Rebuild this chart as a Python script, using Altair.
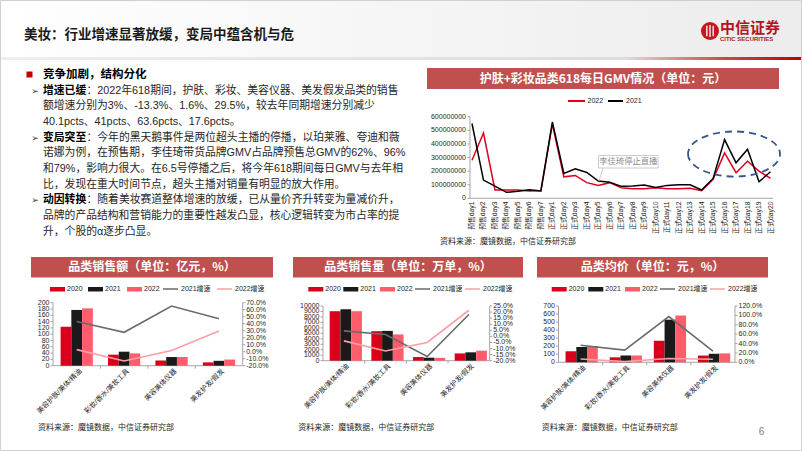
import altair as alt
import pandas as pd

FONT = "Liberation Sans, Noto Sans CJK SC"
CJK = "Noto Sans CJK SC"
HEAD = "#C0504D"
TXT = "#262626"
AXC = "#A6A6A6"
C2020 = "#D9001B"
C2021 = "#1A1A1A"
C2022 = "#FF5C6C"
G21 = "#6B6B6B"
G22 = "#F7A1A5"
LINE22 = "#E0001E"
LINE21 = "#000000"

# ---------------- data: daily GMV (unit: million yuan) ----------------
days = ["预售day1", "预售day2", "预售day3", "预售day4", "预售day5", "预售day6", "预售day7",
        "正式day1", "正式day2", "正式day3", "正式day4", "正式day5", "正式day6", "正式day7",
        "正式day8", "正式day9", "正式day10", "正式day11", "正式day12", "正式day13", "正式day14",
        "正式day15", "正式day16", "正式day17", "正式day18", "正式day19", "正式day20"]
gmv_2022_mn = [280, 480, 61, 61, 61, 54, 55, 545, 158, 168, 115, 95, 115, 78, 71, 71, 78,
               71, 71, 73, 56, 139, 334, 188, 273, 200, 146]
gmv_2021_mn = [550, 134, 90, 44, 52, 62, 54, 561, 183, 217, 190, 127, 118, 88, 90, 98, 80,
               95, 100, 100, 61, 146, 432, 261, 361, 122, 195]
gmv_ticks = [0, 100000000, 200000000, 300000000, 400000000, 500000000, 600000000]

# ---------------- data: category charts ----------------
CATS = ["美容护肤/美体/精油", "彩妆/香水/美妆工具", "美容美体仪器", "美发护发/假发"]
YEARS = ["2020", "2021", "2022"]

sales_2020 = [124, 35, 16.5, 10.5]
sales_2021 = [177, 44.5, 27.5, 15.5]
sales_2022 = [182, 39, 27.5, 19.5]
sales_g2021 = [43.1, 27.7, 65.2, 47.1]
sales_g2022 = [3.0, -13.3, 1.6, 29.5]
sales_left_ticks = [0, 20, 40, 60, 80, 100, 120, 140, 160, 180, 200]
sales_right_ticks = [-20, -10, 0, 10, 20, 30, 40, 50, 60, 70]

vol_2020 = [9050, 5400, 670, 1330]
vol_2021 = [9400, 5450, 550, 1530]
vol_2022 = [9050, 4800, 530, 1830]
vol_g2021 = [4.5, 1.5, -16.5, 18.0]
vol_g2022 = [-3.7, -12.0, -5.0, 21.5]
vol_left_ticks = [0, 1000, 2000, 3000, 4000, 5000, 6000, 7000, 8000, 9000, 10000]
vol_right_ticks = [-20, -15, -10, -5, 0, 5, 10, 15, 20, 25]

price_2020 = [138, 62, 268, 84]
price_2021 = [191, 85, 530, 106]
price_2022 = [202, 85, 582, 111]
price_g2021 = [36.5, 26.0, 97.5, 23.8]
price_g2022 = [7.0, 1.5, 8.0, 6.5]
price_left_ticks = [0, 100, 200, 300, 400, 500, 600, 700]
price_right_ticks = [0, 20, 40, 60, 80, 100, 120]

heading = "竞争加剧，结构分化"
bullets = [
    ("增速已缓", ["：2022年618期间，护肤、彩妆、美容仪器、美发假发品类的销售",
                 "额增速分别为3%、-13.3%、1.6%、29.5%，较去年同期增速分别减少",
                 "40.1pcts、41pcts、63.6pcts、17.6pcts。"]),
    ("变局突至", ["：今年的黑天鹅事件是两位超头主播的停播，以珀莱雅、夸迪和薇",
                 "诺娜为例，在预售期，李佳琦带货品牌GMV占品牌预售总GMV的62%、96%",
                 "和79%，影响力很大。在6.5号停播之后，将今年618期间每日GMV与去年相",
                 "比，发现在重大时间节点，超头主播对销量有明显的放大作用。"]),
    ("动因转换", ["：随着美妆赛道整体增速的放缓，已从量价齐升转变为量减价升，",
                 "品牌的产品结构和营销能力的重要性越发凸显，核心逻辑转变为市占率的提",
                 "升，个股的α逐步凸显。"]),
]
SOURCE = "资料来源：魔镜数据，中信证券研究部"

ONE = pd.DataFrame({"k": [0]})


def txt(s, x, y, size=8, color=TXT, bold=False, align="left", angle=0, font=FONT, baseline="middle"):
    return alt.Chart(ONE).mark_text(
        text=s, fontSize=size, color=color, fontWeight=("bold" if bold else "normal"),
        align=align, baseline=baseline, angle=angle, font=font
    ).encode(x=alt.value(x), y=alt.value(y))


def rect(x, y, x2, y2, fill, stroke=None, sw=1.0, fill_opacity=1.0):
    kw = {"fill": fill, "fillOpacity": fill_opacity}
    if stroke is not None:
        kw["stroke"] = stroke
        kw["strokeWidth"] = sw
    return alt.Chart(ONE).mark_rect(**kw).encode(
        x=alt.value(x), x2=alt.value(x2), y=alt.value(y), y2=alt.value(y2))


def seg(x, y, x2, y2, color, w=1.0, dash=None):
    kw = {"color": color, "strokeWidth": w}
    if dash:
        kw["strokeDash"] = dash
    return alt.Chart(ONE).mark_rule(**kw).encode(
        x=alt.value(x), y=alt.value(y), x2=alt.value(x2), y2=alt.value(y2))


def grad(stops):
    return alt.Gradient(gradient="linear", x1=0, x2=1, y1=0, y2=0,
                        stops=[alt.GradientStop(offset=o, color=c) for o, c in stops])


# ================= ROW 1 (title, text, line chart) =================
r1 = []
r1.append(rect(0, 0, 802, 57, grad([(0, "#ffffff"), (1, "#ececec")])))
r1.append(rect(0, 57, 802, 60, grad([(0, "#eeeeee"), (0.78, "#dddddd"), (0.9, "#c0504d"), (1, "#c00000")])))
r1.append(txt("美妆：行业增速显著放缓，变局中蕴含机与危", 24, 35, 13.5, "#1a1a1a", True, font=CJK))

# logo
r1.append(alt.Chart(ONE).mark_point(shape="circle", filled=True, size=324, color="#C8161D", opacity=1)
          .encode(x=alt.value(710), y=alt.value(31)))
r1.append(alt.Chart(ONE).mark_point(shape="M-0.45,-0.75L-0.45,0.75M0,-0.85L0,0.85M0.45,-0.75L0.45,0.75",
                                    filled=False, size=196, color="white", strokeWidth=1.3, opacity=1)
          .encode(x=alt.value(710), y=alt.value(31)))
r1.append(txt("中信证券", 720, 28, 15, "#B5121B", True, font=CJK))
r1.append(txt("CITIC SECURITIES", 720, 38.5, 6, "#B5121B", True, font="Liberation Sans"))

# text block
r1.append(rect(26.5, 71.5, 32.5, 77.5, "#C00000"))
r1.append(txt(heading, 43, 75, 11.5, "#000000", True, font=CJK))
yy = 75.0
for head, lines in bullets:
    for j, line in enumerate(lines):
        yy += 15.65
        if j == 0:
            r1.append(txt("➢", 35, yy, 9, "#404040", font="DejaVu Sans", align="center"))
            r1.append(txt(head, 43, yy, 10.8, "#000000", True, font=CJK))
            r1.append(txt(line, 86.5, yy, 10.8, TXT))
        else:
            r1.append(txt(line, 43, yy, 10.8, TXT))

# line chart
r1.append(rect(427, 68, 779, 89, HEAD))
r1.append(txt("护肤+彩妆品类618每日GMV情况（单位：元）", 603, 78.5, 12, "white", True, "center", font=CJK))
r1.append(seg(568, 101, 585, 101, LINE22, 2))
r1.append(txt("2022", 587.5, 101, 7))
r1.append(seg(608, 101, 623, 101, LINE21, 2))
r1.append(txt("2021", 626, 101, 7))

xs_d = alt.Scale(type="point", domain=days, range=[472, 770.5], padding=0)
ys_d = alt.Scale(domain=[0, 600000000], range=[198.3, 116.7], nice=False, zero=False)
r1.append(seg(470, 116.7, 470, 198.3, AXC))
r1.append(seg(470, 198.3, 773, 198.3, AXC))
tick_df = pd.DataFrame({"v": gmv_ticks, "lab": [str(t) for t in gmv_ticks]})
r1.append(alt.Chart(tick_df).mark_rule(color=AXC).encode(
    x=alt.value(467.5), x2=alt.value(470), y=alt.Y("v:Q", scale=ys_d, axis=None)))
r1.append(alt.Chart(tick_df).mark_text(align="right", baseline="middle", fontSize=7, font=FONT, color=TXT).encode(
    x=alt.value(466), y=alt.Y("v:Q", scale=ys_d, axis=None), text="lab:N"))
day_df = pd.DataFrame({"day": days})
r1.append(alt.Chart(day_df).mark_text(angle=270, align="right", baseline="middle", fontSize=6.8,
                                      font=FONT, color=TXT).encode(
    x=alt.X("day:N", scale=xs_d, axis=None), y=alt.value(201.5), text="day:N"))
gdf = pd.DataFrame({"day": days, "i": list(range(len(days))),
                    "v22": [m * 1e6 for m in gmv_2022_mn], "v21": [m * 1e6 for m in gmv_2021_mn]})
r1.append(alt.Chart(gdf).mark_line(color=LINE22, strokeWidth=1.5).encode(
    x=alt.X("day:N", scale=xs_d, axis=None), y=alt.Y("v22:Q", scale=ys_d, axis=None), order="i:Q"))
r1.append(alt.Chart(gdf).mark_line(color=LINE21, strokeWidth=1.5).encode(
    x=alt.X("day:N", scale=xs_d, axis=None), y=alt.Y("v21:Q", scale=ys_d, axis=None), order="i:Q"))

# annotation + ellipse
r1.append(seg(603, 168, 599, 181, "#BFBFBF", 0.8))
r1.append(rect(598.5, 155.5, 658, 168, "white", "#BFBFBF", 0.8))
r1.append(txt("李佳琦停止直播", 628.3, 162, 8.3, "#8C8C8C", align="center", font=CJK))
r1.append(alt.Chart(ONE).mark_point(shape="M-1,0A1,0.49,0,1,0,1,0A1,0.49,0,1,0,-1,0Z", size=92 * 92,
                                    filled=False, color="#34568B", strokeWidth=1.8, strokeDash=[7, 5],
                                    opacity=1)
          .encode(x=alt.value(734), y=alt.value(154)))
r1.append(txt(SOURCE, 440, 242, 8, TXT, font=CJK))
r1.append(rect(0.5, 0.5, 801.5, 450.5, "white", "#D0D0D0", 1, 0))

row1 = alt.layer(*r1).resolve_scale(x="independent", y="independent").properties(width=802, height=252)


# ================= ROW 2 (three combo charts) =================
def panel(px, pw, title, hx0, hx1, leg, v20, v21, v22, g21, g22, lticks, rticks,
          ax0, ax1, yb, yt, src_x, page=False):
    X = lambda a: a - px
    Y = lambda a: a - 252
    L = []
    L.append(rect(X(hx0), Y(257), X(hx1), Y(277.5), HEAD))
    L.append(txt(title, X((hx0 + hx1) / 2), Y(267.3), 12, "white", True, "center", font=CJK))
    ly = Y(289)
    cols = [C2020, C2021, C2022]
    for k in range(3):
        L.append(rect(X(leg[k]), ly - 2, X(leg[k]) + 15, ly + 2.5, cols[k]))
        L.append(txt(YEARS[k], X(leg[k]) + 17, ly, 7))
    L.append(seg(X(leg[3]), ly, X(leg[3]) + 15, ly, G21, 1.5))
    L.append(txt("2021增速", X(leg[3]) + 18, ly, 7))
    L.append(seg(X(leg[4]), ly, X(leg[4]) + 15, ly, G22, 1.5))
    L.append(txt("2022增速", X(leg[4]) + 18, ly, 7))

    xs = alt.Scale(type="band", domain=CATS, range=[X(ax0), X(ax1)], paddingInner=0.32, paddingOuter=0.16)
    yl = alt.Scale(domain=[lticks[0], lticks[-1]], range=[Y(yb), Y(yt)], nice=False, zero=False)
    yr = alt.Scale(domain=[rticks[0], rticks[-1]], range=[Y(yb), Y(yt)], nice=False, zero=False)

    # axis lines
    L.append(seg(X(ax0), Y(yt), X(ax0), Y(yb), AXC))
    L.append(seg(X(ax1), Y(yt), X(ax1), Y(yb), AXC))
    L.append(seg(X(ax0), Y(yb), X(ax1), Y(yb), AXC))

    ldf = pd.DataFrame({"v": lticks, "lab": [str(t) for t in lticks]})
    rdf = pd.DataFrame({"v": rticks, "lab": ["%.1f%%" % t for t in rticks]})
    L.append(alt.Chart(ldf).mark_rule(color=AXC).encode(
        x=alt.value(X(ax0) - 2.5), x2=alt.value(X(ax0)), y=alt.Y("v:Q", scale=yl, axis=None)))
    L.append(alt.Chart(ldf).mark_text(align="right", baseline="middle", fontSize=7, font=FONT, color=TXT).encode(
        x=alt.value(X(ax0) - 3.5), y=alt.Y("v:Q", scale=yl, axis=None), text="lab:N"))
    L.append(alt.Chart(rdf).mark_rule(color=AXC).encode(
        x=alt.value(X(ax1)), x2=alt.value(X(ax1) + 2.5), y=alt.Y("v:Q", scale=yr, axis=None)))
    L.append(alt.Chart(rdf).mark_text(align="left", baseline="middle", fontSize=7, font=FONT, color=TXT).encode(
        x=alt.value(X(ax1) + 3.5), y=alt.Y("v:Q", scale=yr, axis=None), text="lab:N"))

    step = (ax1 - ax0) / 4.0
    cdf = pd.DataFrame({"cat": CATS[:3]})
    L.append(alt.Chart(cdf).mark_rule(color=AXC, xOffset=step / 2).encode(
        x=alt.X("cat:N", scale=xs, axis=None, bandPosition=0.5),
        y=alt.value(Y(yb)), y2=alt.value(Y(yb) + 3)))

    bdf = pd.DataFrame({"cat": CATS * 3, "year": [y for y in YEARS for _ in CATS], "v": v20 + v21 + v22})
    L.append(alt.Chart(bdf).mark_bar().encode(
        x=alt.X("cat:N", scale=xs, axis=None),
        xOffset=alt.XOffset("year:N", scale=alt.Scale(domain=YEARS)),
        y=alt.Y("v:Q", scale=yl, axis=None),
        color=alt.Color("year:N", scale=alt.Scale(domain=YEARS, range=cols), legend=None)))

    for g, col in [(g21, G21), (g22, G22)]:
        gd = pd.DataFrame({"cat": CATS, "i": [0, 1, 2, 3], "v": g})
        L.append(alt.Chart(gd).mark_line(color=col, strokeWidth=1.6).encode(
            x=alt.X("cat:N", scale=xs, axis=None, bandPosition=0.5),
            y=alt.Y("v:Q", scale=yr, axis=None), order="i:Q"))

    xl = pd.DataFrame({"cat": CATS})
    L.append(alt.Chart(xl).mark_text(angle=315, align="right", baseline="middle", fontSize=7,
                                     font=FONT, color=TXT, xOffset=4).encode(
        x=alt.X("cat:N", scale=xs, axis=None, bandPosition=0.5), y=alt.value(Y(yb) + 4.5),
        text="cat:N"))
    L.append(txt(SOURCE, X(src_x), Y(428), 8, TXT, font=CJK))
    if page:
        L.append(txt("6", X(761.5), Y(432), 10, "#7F7F7F", align="center"))
    return alt.layer(*L).resolve_scale(y="independent", color="independent").properties(width=pw, height=199)


p1 = panel(0, 280, "品类销售额（单位：亿元，%）", 31, 273, [50, 88, 127, 163, 217],
           sales_2020, sales_2021, sales_2022, sales_g2021, sales_g2022,
           sales_left_ticks, sales_right_ticks, 53, 242.7, 365.7, 302.7, 38)
p2 = panel(280, 253, "品类销售量（单位：万单，%）", 293, 523, [308.3, 343.3, 380, 415, 465],
           vol_2020, vol_2021, vol_2022, vol_g2021, vol_g2022,
           vol_left_ticks, vol_right_ticks, 323, 489.7, 360.7, 306, 298.3)
p3 = panel(533, 269, "品类均价（单位：元，%）", 537, 768, [551.7, 588.3, 625, 660, 710],
           price_2020, price_2021, price_2022, price_g2021, price_g2022,
           price_left_ticks, price_right_ticks, 558.5, 735, 362.3, 306, 541.7, page=True)

row2 = alt.hconcat(p1, p2, p3, spacing=0, bounds="flush")

chart = alt.vconcat(row1, row2, spacing=0, bounds="flush").properties(
    padding=0, background="white"
).configure_view(stroke=None)

chart.save("out.html", embed_options={"renderer": "svg", "actions": False})
